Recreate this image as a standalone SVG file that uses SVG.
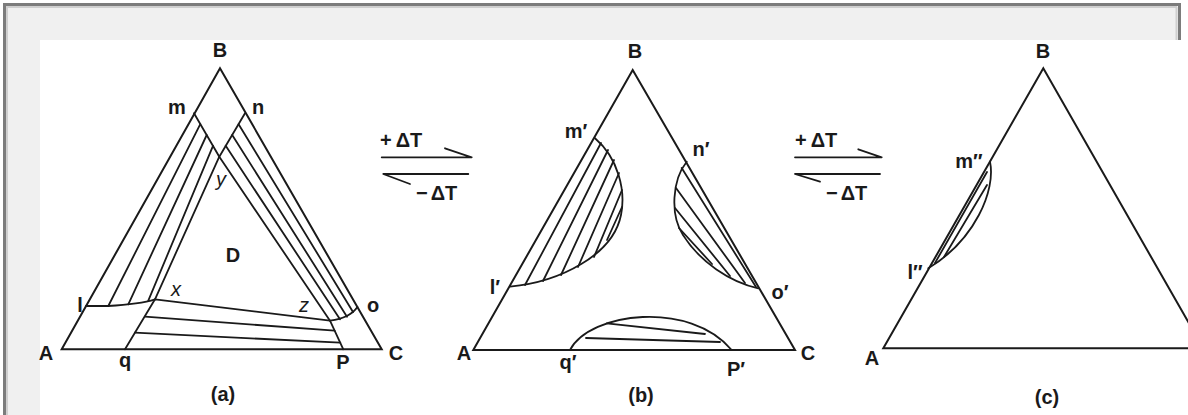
<svg xmlns="http://www.w3.org/2000/svg" width="1188" height="415" viewBox="0 0 1188 415">
<style>
.lbl{font-family:"Liberation Sans",Arial,sans-serif;font-weight:bold;font-size:20px;fill:#1a1a1a;text-anchor:middle}
.it{font-family:"Liberation Sans",Arial,sans-serif;font-style:italic;font-size:20px;fill:#1a1a1a;text-anchor:middle}
.dt{font-family:"Liberation Sans",Arial,sans-serif;font-weight:bold;font-size:20px;fill:#1a1a1a}
.edge{fill:none;stroke:#1a1a1a;stroke-width:2;stroke-linejoin:miter}
.ln{fill:none;stroke:#1a1a1a;stroke-width:1.8;stroke-linecap:round;stroke-linejoin:round}
</style>
<rect width="1188" height="415" fill="#ffffff"/>
<g id="frame">
<path d="M6,6 H1178 V40 H40 V415 H6 Z" fill="#f0f0f0"/>
<path d="M6,7 H1177 M7,7 V415 M1176.5,7 V40" stroke="#cfcfcf" stroke-width="2" fill="none"/>
<path d="M4.5,415 V4.5 H1179.5 V40" stroke="#7c7c7c" stroke-width="3" fill="none"/>
</g>
<g id="diagram-a">
<path class="edge" d="M61.7,349.3 L220,68.3 L381.7,349.3 Z"/>
<path class="ln" d="M194,113.3 L219.3,156.7 L330,320.7"/>
<path class="ln" d="M245,113.3 L219.3,156.7 L155,299.3"/>
<path class="ln" d="M86,306 L108,306 Q140,304 155,299.3 L330,320.7 Q350,318 357.4,307"/>
<path class="ln" d="M200.3,124.2 L108.3,306 M206.7,135 L128.3,304.3 M213,145.8 L148.3,300.7"/>
<path class="ln" d="M238.6,124.2 L353,312 M232.2,135 L347,316.7 M225.7,145.8 L340,319.3"/>
<path class="ln" d="M155,299.3 L125,349.3 M330,320.7 L343.3,349.3"/>
<path class="ln" d="M145,316.7 L334.6,330.7 M134.8,332.7 L340.3,342.7"/>
<text class="lbl" x="220" y="57">B</text>
<text class="lbl" x="177" y="114">m</text>
<text class="lbl" x="258" y="114">n</text>
<text class="it" x="221" y="186">y</text>
<text class="lbl" x="233" y="262">D</text>
<text class="it" x="176" y="296">x</text>
<text class="it" x="304" y="312">z</text>
<text class="lbl" x="80" y="312">l</text>
<text class="lbl" x="373" y="312">o</text>
<text class="lbl" x="46" y="360">A</text>
<text class="lbl" x="125" y="367">q</text>
<text class="lbl" x="343" y="369">P</text>
<text class="lbl" x="396" y="360">C</text>
<text class="lbl" x="223" y="401">(a)</text>
</g>
<g id="diagram-b">
<path class="edge" d="M473.3,350 L632.7,70 L795,350 Z"/>
<path class="ln" d="M595,138.3 C618,158 626,190 621,215 C613,255 560,282 510,286.7"/>
<path class="ln" d="M601,143 L525,285 M608,150 L543,281 M614,160 L561,275 M619,173 L578,267 M622,190 L594,257 M622,207 L607,240"/>
<path class="ln" d="M686.7,161.7 C672,180 670,215 683,235 C700,262 730,282 758.3,288.3"/>
<path class="ln" d="M681.7,168 L756,287 M676,188 L745,283 M675,208 L730,276 M679,228 L712,264"/>
<path class="ln" d="M570,350 C590,312 690,300 731.7,350"/>
<path class="ln" d="M606.7,323.3 L705,334 M586,338 L720,342"/>
<text class="lbl" x="635" y="58">B</text>
<text class="lbl" x="576" y="138">m′</text>
<text class="lbl" x="701" y="156">n′</text>
<text class="lbl" x="495" y="294">l′</text>
<text class="lbl" x="780" y="299">o′</text>
<text class="lbl" x="464" y="360">A</text>
<text class="lbl" x="568" y="369">q′</text>
<text class="lbl" x="736" y="376">P′</text>
<text class="lbl" x="808" y="360">C</text>
<text class="lbl" x="641" y="402">(b)</text>
</g>
<g id="diagram-c">
<path class="edge" d="M883.3,348.3 L1043.3,68.3 L1203.3,348.3 Z"/>
<path class="ln" d="M990,161.7 C996,190 975,240 928.3,268.3"/>
<path class="ln" d="M987,172 L935,263 M987,185 L944,257"/>
<text class="lbl" x="1043" y="58">B</text>
<text class="lbl" x="969" y="168">m″</text>
<text class="lbl" x="915" y="279">l″</text>
<text class="lbl" x="872" y="365">A</text>
<text class="lbl" x="1047" y="404">(c)</text>
</g>
<g id="connectors">
<path class="ln" d="M381.7,157.3 H471.7 L445,148.3 M468.3,174 H383.3 L410,184"/>
<text class="dt" x="380" y="147">+<tspan dx="4">ΔT</tspan></text>
<text class="dt" x="416" y="200">−<tspan dx="3">ΔT</tspan></text>
<path class="ln" d="M795,157.3 H881.7 L858.3,149.3 M880,174 H795 L820,181.7"/>
<text class="dt" x="795" y="147">+<tspan dx="4">ΔT</tspan></text>
<text class="dt" x="826" y="200">−<tspan dx="3">ΔT</tspan></text>
</g>
</svg>
